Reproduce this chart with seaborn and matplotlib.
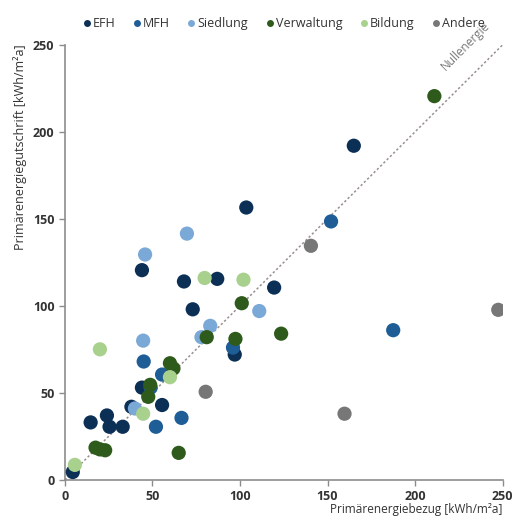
import matplotlib
matplotlib.use("Agg")
import matplotlib.pyplot as plt
import numpy as np
import pandas as pd
import seaborn as sns

# Punkte je Gebäudekategorie: (Primärenergiebezug, Primärenergiegutschrift)
efh_x = [4.5, 14.7, 24, 25.5, 33, 38, 44, 55.5, 44, 68, 73, 87, 97, 103.6, 119.5, 165]
efh_y = [4.5, 33, 37, 30.5, 30.5, 42, 53, 43, 120.5, 114, 98, 115.5, 72, 156.5, 110.5, 192]
mfh_x = [45, 49, 52, 55.5, 66.6, 96, 152, 187.5]
mfh_y = [68, 53, 30.5, 60.5, 35.6, 76, 148.5, 86]
sied_x = [40, 44.7, 45.8, 69.7, 83, 78, 111]
sied_y = [41, 80, 129.5, 141.5, 88.5, 82, 97]
verw_x = [17.5, 20, 23, 48.7, 47.6, 60, 62, 65, 81, 97.4, 101, 123.5, 211]
verw_y = [18.5, 17.5, 17, 54.6, 47.7, 67, 64, 15.5, 82, 81, 101.5, 84, 220.5]
bild_x = [5.7, 20, 44.7, 60, 79.8, 102]
bild_y = [8.6, 75, 38, 59, 116, 115]
and_x = [80.4, 140.5, 159.7, 247.5]
and_y = [50.6, 134.5, 38, 97.7]

kategorien = ["EFH", "MFH", "Siedlung", "Verwaltung", "Bildung", "Andere"]
farben = ["#0b2f55", "#1f5d97", "#7ba9d7", "#2e5a1c", "#a9d18e", "#777777"]

rows = []
for name, xs, ys in zip(kategorien,
                        [efh_x, mfh_x, sied_x, verw_x, bild_x, and_x],
                        [efh_y, mfh_y, sied_y, verw_y, bild_y, and_y]):
    for x, y in zip(xs, ys):
        rows.append({"bezug": x, "gutschrift": y, "typ": name})
df = pd.DataFrame(rows)

sns.set_style("white")
plt.rcParams["font.family"] = ["Open Sans", "DejaVu Sans"]

fig = plt.figure(figsize=(5.15, 5.21), dpi=100)
ax = fig.add_axes([0.126, 0.079, 0.850, 0.835])

# Nullenergie-Linie
ax.plot([0, 250], [0, 250], linestyle=(0, (1.5, 1.5)), color="#9a8f8f", lw=1.1, zorder=1)
ax.text(229, 249, "Nullenergie", rotation=45, ha="center", va="center",
        fontsize=8.5, color="#777777", clip_on=False)

sns.scatterplot(data=df, x="bezug", y="gutschrift", hue="typ",
                hue_order=kategorien, palette=farben, s=105,
                edgecolor="none", legend=False, ax=ax, zorder=3)

ax.set_xlim(0, 250)
ax.set_ylim(0, 250)
ax.set_xticks(np.arange(0, 251, 50))
ax.set_yticks(np.arange(0, 251, 50))
for sp in ["top", "right"]:
    ax.spines[sp].set_visible(False)
for sp in ["left", "bottom"]:
    ax.spines[sp].set_color("#8c8c8c")
    ax.spines[sp].set_linewidth(1.2)
ax.tick_params(axis="both", direction="out", length=4, width=1, color="#8c8c8c",
               labelsize=9, labelcolor="#333333", left=True, bottom=True)
for lab in ax.get_xticklabels() + ax.get_yticklabels():
    lab.set_fontweight("bold")

ax.set_xlabel("Primärenergiebezug [kWh/m²a]", fontsize=8.5, color="#333333",
              loc="right", labelpad=0)
ax.set_ylabel("Primärenergiegutschrift [kWh/m²a]", fontsize=9, color="#333333",
              loc="top", labelpad=4)

handles = [plt.Line2D([], [], marker="o", linestyle="", markersize=5,
                      markerfacecolor=c, markeredgecolor="none") for c in farben]
fig.legend(handles, kategorien, loc="center", bbox_to_anchor=(0.55, 0.955),
           ncol=6, frameon=False, fontsize=9, handletextpad=0.1,
           columnspacing=1.3, handlelength=0.8, labelcolor="#333333")

fig.savefig("out.png", dpi=100)
